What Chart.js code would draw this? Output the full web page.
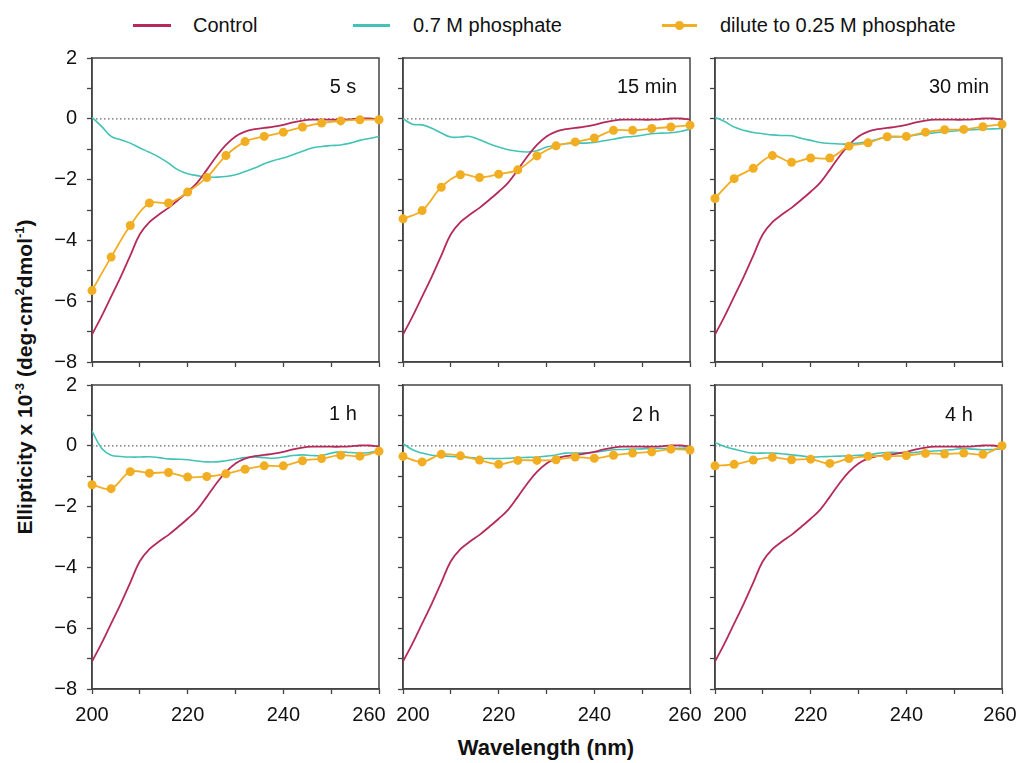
<!DOCTYPE html>
<html>
<head>
<meta charset="utf-8">
<script src="https://cdn.jsdelivr.net/npm/chart.js@4.4.0/dist/chart.umd.min.js"></script>
<style>
  html, body { margin: 0; padding: 0; background: #fff; }
  #page { position: relative; width: 1020px; height: 763px; overflow: hidden;
          font-family: "Liberation Sans", Arial, sans-serif; color: #111; }
  .panel { position: absolute; }
  .tag { position: absolute; font-size: 20px; transform: translate(-50%, -50%); white-space: nowrap; }
  .key-line { position: absolute; height: 3px; }
  .key-dot { position: absolute; width: 9px; height: 9px; border-radius: 50%; background: #f2ae22; }
  .key-text { position: absolute; font-size: 20px; transform: translateY(-50%); white-space: nowrap; }
  #ytitle { position: absolute; left: 25px; top: 377px; font-weight: bold; font-size: 21px;
            white-space: nowrap; transform: translate(-50%, -50%) rotate(-90deg); }
  #xtitle { position: absolute; left: 546px; top: 748px; font-weight: bold; font-size: 22px;
            white-space: nowrap; transform: translate(-50%, -50%); }
  sup { font-size: 0.62em; line-height: 0; vertical-align: 0.6em; }
</style>
</head>
<body>
<div id="page">
  <!-- legend -->
  <div class="key-line" style="left:133px; top:24px; width:38px; background:#b52a5b;"></div>
  <div class="key-text" style="left:193px; top:25px;">Control</div>
  <div class="key-line" style="left:353px; top:24px; width:37px; background:#43c3b5;"></div>
  <div class="key-text" style="left:413px; top:25px;">0.7 M phosphate</div>
  <div class="key-line" style="left:662px; top:24px; width:35px; background:#f2ae22;"></div>
  <div class="key-dot" style="left:675px; top:21px;"></div>
  <div class="key-text" style="left:720px; top:25px;">dilute to 0.25 M phosphate</div>

  <div id="ytitle">Ellipticity x 10<sup>-3</sup> (deg·cm<sup>2</sup>dmol<sup>-1</sup>)</div>
  <div id="xtitle">Wavelength (nm)</div>
</div>

<script>
// wavelengths (nm)
const wlDense = [200, 202, 204, 206, 208, 210, 212, 214, 216, 218, 220, 222, 224, 226, 228, 230,
                 232, 234, 236, 238, 240, 242, 244, 246, 248, 250, 252, 254, 256, 258, 260];
const wlMarks = [200, 204, 208, 212, 216, 220, 224, 228, 232, 236, 240, 244, 248, 252, 256, 260];

// Control (same in every panel)
const controlCurve = [-7.1, -6.5, -5.85, -5.2, -4.5, -3.8, -3.4, -3.15, -2.93, -2.67, -2.4, -2.1, -1.68, -1.24, -0.86, -0.58,
                      -0.42, -0.34, -0.3, -0.26, -0.2, -0.12, -0.06, -0.03, -0.03, -0.03, -0.03, -0.02, 0.01, 0.01, -0.02];

// 0.7 M phosphate, one per panel
const phos5s = [0.05, -0.25, -0.58, -0.69, -0.8, -0.96, -1.1, -1.26, -1.46, -1.68, -1.81, -1.87, -1.92, -1.92, -1.9, -1.84,
                -1.73, -1.62, -1.48, -1.37, -1.29, -1.18, -1.07, -0.96, -0.91, -0.88, -0.86, -0.8, -0.71, -0.65, -0.58];
const phos15m = [0, -0.18, -0.2, -0.31, -0.47, -0.6, -0.6, -0.58, -0.69, -0.82, -0.93, -1.02, -1.07, -1.09, -1.05, -0.93,
                 -0.87, -0.82, -0.8, -0.8, -0.78, -0.72, -0.67, -0.61, -0.58, -0.54, -0.49, -0.47, -0.46, -0.42, -0.34];
const phos30m = [0.05, -0.09, -0.27, -0.38, -0.45, -0.49, -0.53, -0.55, -0.56, -0.64, -0.71, -0.78, -0.81, -0.83, -0.83, -0.8,
                 -0.75, -0.67, -0.6, -0.6, -0.58, -0.53, -0.49, -0.46, -0.43, -0.4, -0.38, -0.36, -0.34, -0.33, -0.32];
const phos1h = [0.49, -0.08, -0.31, -0.35, -0.37, -0.37, -0.36, -0.39, -0.43, -0.44, -0.46, -0.5, -0.53, -0.53, -0.49, -0.44,
                -0.39, -0.37, -0.39, -0.41, -0.37, -0.32, -0.3, -0.32, -0.32, -0.24, -0.2, -0.22, -0.24, -0.22, -0.16];
const phos2h = [0.07, -0.13, -0.24, -0.31, -0.33, -0.35, -0.37, -0.39, -0.41, -0.42, -0.42, -0.41, -0.39, -0.38, -0.37, -0.34,
                -0.3, -0.24, -0.24, -0.23, -0.21, -0.17, -0.13, -0.12, -0.11, -0.1, -0.09, -0.09, -0.09, -0.08, -0.07];
const phos4h = [0.11, -0.02, -0.11, -0.19, -0.24, -0.24, -0.24, -0.26, -0.3, -0.33, -0.37, -0.36, -0.35, -0.34, -0.33, -0.31,
                -0.3, -0.25, -0.22, -0.22, -0.24, -0.21, -0.19, -0.17, -0.15, -0.12, -0.09, -0.11, -0.13, -0.12, -0.11];

// dilute to 0.25 M phosphate, one per panel
const dil5s = [-5.65, -4.55, -3.51, -2.77, -2.77, -2.41, -1.93, -1.21, -0.75, -0.58, -0.44, -0.27, -0.14, -0.07, -0.03, -0.03];
const dil15m = [-3.29, -3.02, -2.25, -1.84, -1.93, -1.82, -1.68, -1.22, -0.89, -0.76, -0.63, -0.38, -0.38, -0.32, -0.27, -0.21];
const dil30m = [-2.62, -1.97, -1.63, -1.21, -1.43, -1.29, -1.29, -0.9, -0.79, -0.59, -0.58, -0.44, -0.36, -0.35, -0.26, -0.18];
const dil1h = [-1.28, -1.41, -0.85, -0.9, -0.88, -1.03, -1.01, -0.92, -0.77, -0.66, -0.66, -0.49, -0.42, -0.31, -0.34, -0.18];
const dil2h = [-0.35, -0.53, -0.28, -0.33, -0.47, -0.61, -0.48, -0.48, -0.46, -0.37, -0.41, -0.31, -0.24, -0.2, -0.11, -0.14];
const dil4h = [-0.66, -0.61, -0.47, -0.38, -0.46, -0.44, -0.58, -0.42, -0.34, -0.34, -0.32, -0.25, -0.27, -0.24, -0.28, 0];

const panelNames = ['5 s', '15 min', '30 min', '1 h', '2 h', '4 h'];
const phosSets = [phos5s, phos15m, phos30m, phos1h, phos2h, phos4h];
const diluteSets = [dil5s, dil15m, dil30m, dil1h, dil2h, dil4h];
const zeroLine = [200, 260];

const xTickLabels = [200, 220, 240, 260];
const yTickLabels = [2, 0, -2, -4, -6, -8];

// layout
const FONT = '"Liberation Sans", Arial, sans-serif';
const plotLefts = [92, 403, 715];
const plotTops = [58, 385];
const labelCenters = [[343, 86], [647, 86], [959, 86], [343, 413], [646, 414], [959, 414]];
const PLOT_W = 287, PLOT_H = 304;
const AX_W = 60, AX_H = 50, PAD_T = 12, PAD_R = 24;
// spacing nudges so neighbouring end labels (260 | 200) don't collide
const edgeNudge = [
    { first: '', last: '\u2003' },
    { first: '\u2003', last: '\u2002' },
    { first: '\u2003\u2002', last: '\u2009' }
];

const toPoints = (xs, ys) => xs.map((x, i) => ({ x: x, y: ys[i] }));
const fmtNum = v => (v < 0 ? '\u2212' + Math.abs(v) : String(v));

// fixed axis size, no extra room for overflowing labels
function fixAxis(s, size) {
    if (s.isHorizontal()) s.height = size; else s.width = size;
    s.paddingTop = 0; s.paddingBottom = 0; s.paddingLeft = 0; s.paddingRight = 0;
}

// box round the plot area
const framePlugin = {
    id: 'frame',
    beforeDatasetsDraw(chart) {
        const { ctx, chartArea: a } = chart;
        ctx.save();
        ctx.strokeStyle = '#444';
        ctx.lineWidth = 1.5;
        ctx.strokeRect(a.left, a.top, a.right - a.left, a.bottom - a.top);
        ctx.restore();
    }
};

function makePanel(idx) {
    const col = idx % 3, row = Math.floor(idx / 3);
    const showY = col === 0, showX = row === 1;
    const page = document.getElementById('page');

    const canvas = document.createElement('canvas');
    canvas.className = 'panel';
    canvas.width = AX_W + PLOT_W + PAD_R;
    canvas.height = PAD_T + PLOT_H + AX_H;
    canvas.style.left = (plotLefts[col] - AX_W) + 'px';
    canvas.style.top = (plotTops[row] - PAD_T) + 'px';
    page.appendChild(canvas);

    const tag = document.createElement('div');
    tag.className = 'tag';
    tag.textContent = panelNames[idx];
    tag.style.left = labelCenters[idx][0] + 'px';
    tag.style.top = labelCenters[idx][1] + 'px';
    page.appendChild(tag);

    const gridOpts = { drawOnChartArea: false, drawTicks: true, tickLength: 5, tickColor: '#444', tickWidth: 1.3 };
    const borderOpts = { display: true, color: '#444', width: 1.5 };

    const xLabel = v => {
        if (!showX || !xTickLabels.includes(v)) return '';
        if (v === xTickLabels[0]) return edgeNudge[col].first + v;
        if (v === xTickLabels[xTickLabels.length - 1]) return v + edgeNudge[col].last;
        return String(v);
    };

    new Chart(canvas, {
        type: 'line',
        data: {
            datasets: [
                {
                    label: 'dilute to 0.25 M phosphate',
                    data: toPoints(wlMarks, diluteSets[idx]),
                    borderColor: '#f2ae22', backgroundColor: '#f2ae22',
                    borderWidth: 1.8, tension: 0.35,
                    pointRadius: 4.5, pointBorderWidth: 0, pointBackgroundColor: '#f2ae22',
                    clip: false, order: 0
                },
                {
                    label: 'Control',
                    data: toPoints(wlDense, controlCurve),
                    borderColor: '#b52a5b', borderWidth: 1.8, tension: 0.4,
                    pointRadius: 0, order: 1
                },
                {
                    label: '0.7 M phosphate',
                    data: toPoints(wlDense, phosSets[idx]),
                    borderColor: '#43c3b5', borderWidth: 1.6, tension: 0.4,
                    pointRadius: 0, order: 2
                },
                {
                    label: 'zero',
                    data: zeroLine.map(x => ({ x: x, y: 0 })),
                    borderColor: '#666', borderWidth: 1.2, borderDash: [1.5, 2.5],
                    pointRadius: 0, order: 3
                }
            ]
        },
        options: {
            responsive: false,
            animation: false,
            events: [],
            layout: { padding: { top: PAD_T, right: PAD_R, left: 0, bottom: 0 } },
            plugins: { legend: { display: false }, tooltip: { enabled: false } },
            scales: {
                x: {
                    type: 'linear', min: 200, max: 260,
                    afterFit: s => fixAxis(s, AX_H),
                    ticks: {
                        stepSize: 10, autoSkip: false, maxRotation: 0, padding: 9,
                        color: '#111', font: { size: 20, family: FONT },
                        callback: xLabel
                    },
                    grid: gridOpts,
                    border: borderOpts
                },
                y: {
                    type: 'linear', min: -8, max: 2,
                    afterFit: s => fixAxis(s, AX_W),
                    ticks: {
                        stepSize: 1, autoSkip: false, padding: 10,
                        color: '#111', font: { size: 20, family: FONT },
                        callback: v => (showY && yTickLabels.includes(v) ? fmtNum(v) : '')
                    },
                    grid: gridOpts,
                    border: borderOpts
                }
            }
        },
        plugins: [framePlugin]
    });
}

for (let i = 0; i < 6; i++) makePanel(i);
</script>
</body>
</html>
